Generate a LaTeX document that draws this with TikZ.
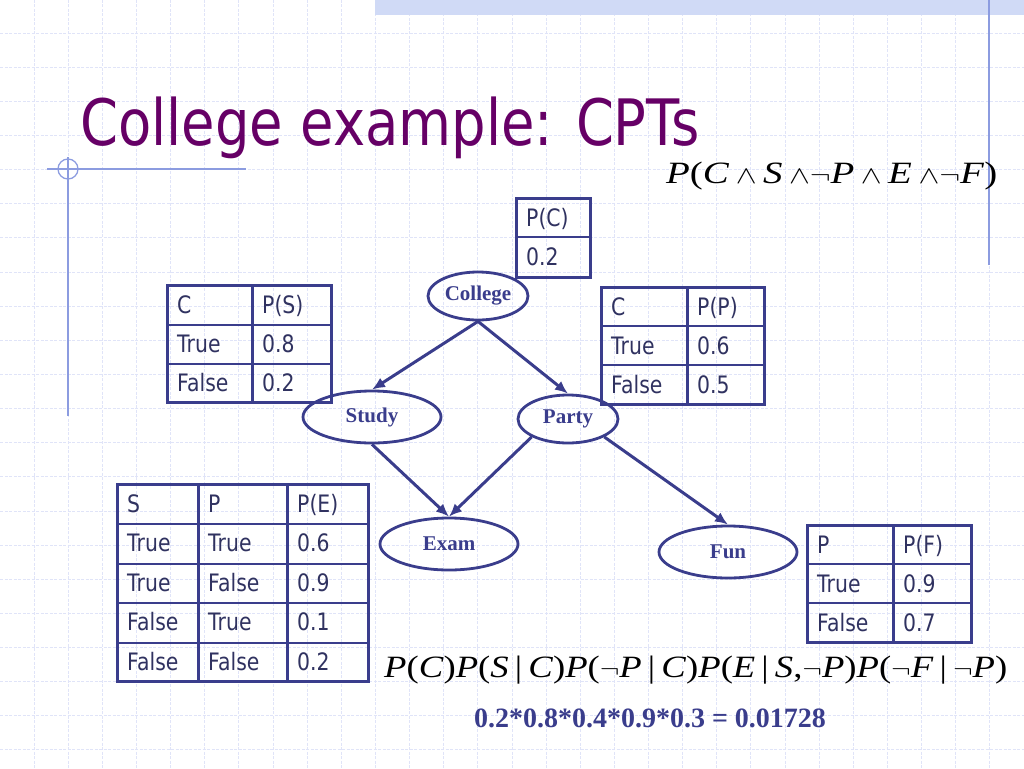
\documentclass[tikz,border=0pt]{standalone}
\usepackage{fontspec}
\usepackage{graphicx}
\usepackage{tikz}
\usetikzlibrary{shapes.geometric,arrows.meta}

\newfontfamily\tahoma[FakeStretch=0.85]{DejaVu Sans}
\newfontfamily\tms{Liberation Serif}
\definecolor{navy}{RGB}{58,61,140}
\definecolor{tblink}{RGB}{48,50,96}
\definecolor{titlepurple}{RGB}{102,0,102}
\definecolor{gridblue}{RGB}{224,228,248}
\definecolor{bandblue}{RGB}{208,218,246}
\definecolor{accent}{RGB}{140,156,224}

\tikzset{
  gridline/.style={gridblue,line width=1pt,dash pattern=on 3pt off 1.5pt},
  tblthick/.style={navy,line width=3pt},
  tblthin/.style={navy,line width=1.5pt},
  cell/.style={anchor=base west,inner sep=0pt,text=tblink,font=\tahoma\fontsize{24}{26}\selectfont},
  bnode/.style={ellipse,draw=navy,line width=2.8pt,inner sep=0pt,text=navy,font=\tms\bfseries\fontsize{21}{23}\selectfont},
  edge/.style={-{Latex[length=13pt,width=11pt]},navy,line width=3pt}
}

\begin{document}
\begin{tikzpicture}[x=1pt,y=-1pt]
\useasboundingbox (0,0) rectangle (1024,768);
% background grid
\foreach \i in {1,...,29} \draw[gridline] (34.133*\i,0) -- (34.133*\i,768);
\foreach \j in {1,...,22} \draw[gridline] (0,34.133*\j-1) -- (1024,34.133*\j-1);
\fill[bandblue] (375,0) rectangle (1024,15);
\draw[accent,line width=1.3pt] (989,0) -- (989,265);
\draw[accent,line width=1.3pt] (47,169) -- (246,169) (68,157) -- (68,416);
\draw[accent,line width=1.3pt] (68,169) circle (10);

% title and formulas
\node[anchor=base west,inner sep=0pt,text=titlepurple,font=\tahoma\fontsize{64}{66}\selectfont] (title) at (80,145) {College example: CPTs};
\node[anchor=base west,inner sep=0pt,font=\tms\fontsize{31}{34}\selectfont] (joint) at (666,183)
  {\resizebox{331pt}{\height}{\textit{P}(\textit{C}\,$\wedge$\,\textit{S}\,$\wedge\neg$\textit{P}\,$\wedge$\,\textit{E}\,$\wedge\neg$\textit{F})}};
\node[anchor=base west,inner sep=0pt,font=\tms\fontsize{31}{34}\selectfont] (chain) at (384,677)
  {\resizebox{623pt}{\height}{\textit{P}(\textit{C})\textit{P}(\textit{S}\,|\,\textit{C})\textit{P}($\neg$\textit{P}\,|\,\textit{C})\textit{P}(\textit{E}\,|\,\textit{S},$\neg$\textit{P})\textit{P}($\neg$\textit{F}\,|\,$\neg$\textit{P})}};
\node[anchor=base,inner sep=0pt,text=navy,font=\tms\bfseries\fontsize{28}{30}\selectfont] (result) at (650,727) {0.2*0.8*0.4*0.9*0.3 = 0.01728};

% network
\node[bnode,minimum width=100,minimum height=48] (college) at (478,296) {College};
\node[bnode,minimum width=138,minimum height=52] (study) at (372,417) {Study};
\node[bnode,minimum width=100,minimum height=48] (party) at (568,419) {Party};
\node[bnode,minimum width=138,minimum height=52] (exam) at (449,544) {Exam};
\node[bnode,minimum width=138,minimum height=52] (fun) at (728,552) {Fun};
\draw[edge] (college.south) -- (study.north);
\draw[edge] (college.south) -- (party.north);
\draw[edge] (study.south) -- (exam.north);
\draw[edge] (party.south west) -- (exam.north);
\draw[edge] (party.south east) -- (fun.north);

% P(C)
\draw[tblthin] (516,237) -- (590,237);
\draw[tblthick] (516,198) rectangle (590,277);
\node[cell] (pc-0) at (526,226) {P(C)};
\node[cell] (pc-1) at (526,265) {0.2};

% P(S)
\draw[tblthin] (167,325) -- (331,325) (167,364) -- (331,364);
\draw[tblthick] (167,285) rectangle (331,402) (252,285) -- (252,402);
\foreach \a/\b [count=\i from 0] in {C/P(S),True/0.8,False/0.2}{
  \node[cell] (ps-\i-a) at (177,313+39*\i) {\a};
  \node[cell] (ps-\i-b) at (262,313+39*\i) {\b};
}

% P(P)
\draw[tblthin] (601,326) -- (764,326) (601,365) -- (764,365);
\draw[tblthick] (601,287) rectangle (764,404) (687,287) -- (687,404);
\foreach \a/\b [count=\i from 0] in {C/P(P),True/0.6,False/0.5}{
  \node[cell] (pp-\i-a) at (611,315+39*\i) {\a};
  \node[cell] (pp-\i-b) at (697,315+39*\i) {\b};
}

% P(E)
\draw[tblthin] (117,524) -- (368,524) (117,564) -- (368,564) (117,603) -- (368,603) (117,643) -- (368,643);
\draw[tblthick] (117,484) rectangle (368,681) (198,484) -- (198,681) (287,484) -- (287,681);
\foreach \a/\b/\c [count=\i from 0] in {S/P/P(E),True/True/0.6,True/False/0.9,False/True/0.1,False/False/0.2}{
  \node[cell] (pe-\i-a) at (127,512+39.5*\i) {\a};
  \node[cell] (pe-\i-b) at (208,512+39.5*\i) {\b};
  \node[cell] (pe-\i-c) at (297,512+39.5*\i) {\c};
}

% P(F)
\draw[tblthin] (807,564) -- (971,564) (807,603) -- (971,603);
\draw[tblthick] (807,525) rectangle (971,642) (893,525) -- (893,642);
\foreach \a/\b [count=\i from 0] in {P/P(F),True/0.9,False/0.7}{
  \node[cell] (pf-\i-a) at (817,553+39*\i) {\a};
  \node[cell] (pf-\i-b) at (903,553+39*\i) {\b};
}
\end{tikzpicture}
\end{document}
